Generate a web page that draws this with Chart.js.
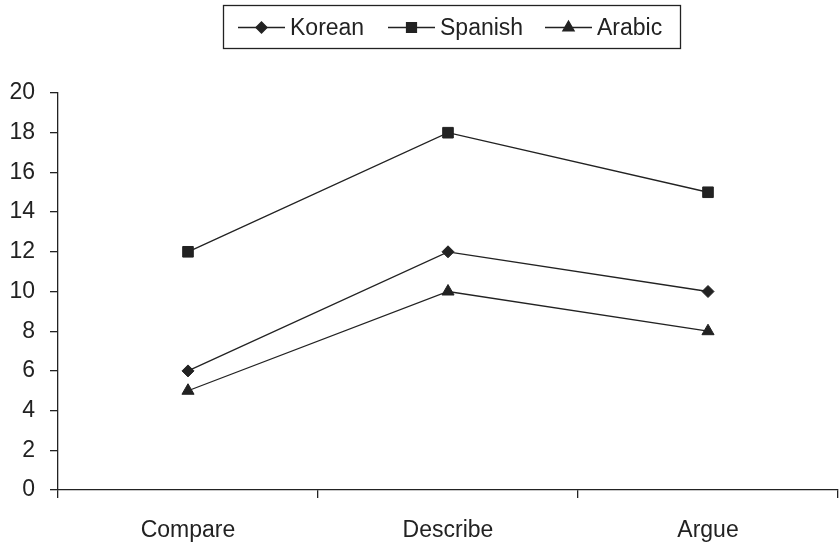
<!DOCTYPE html>
<html>
<head>
<meta charset="utf-8">
<script src="https://cdn.jsdelivr.net/npm/chart.js@4/dist/chart.umd.min.js"></script>
<style>
  html, body { margin: 0; padding: 0; background: #fff; overflow: hidden; }
  #wrap { width: 839px; height: 544px; position: relative; }
  #c { display: block; }
</style>
</head>
<body>
<div id="wrap"><canvas id="c"></canvas></div>
<script>
// Task types on the category axis
const categories = ['Compare', 'Describe', 'Argue'];

// Scores per language group
const korean  = [6, 12, 10];
const spanish = [12, 18, 15];
const arabic  = [5, 10, 8];

// Value axis ticks
const yTicks = [0, 2, 4, 6, 8, 10, 12, 14, 16, 18, 20];

const INK = '#222';
const FONT = '"Liberation Sans", Arial, Helvetica, sans-serif';
const FONT_SIZE = 23;

const series = [
  { label: 'Korean',  data: korean,  pointStyle: 'rectRot',  pointRadius: 6 },
  { label: 'Spanish', data: spanish, pointStyle: 'rect',     pointRadius: 7.5 },
  { label: 'Arabic',  data: arabic,  pointStyle: 'triangle', pointRadius: 7 }
];

// Legend layout: box edges and the left end of each item's line sample
const LEGEND_BOX = { left: 223.5, right: 680.5, top: 5.5, bottom: 48.5 };
const LEGEND_ITEM_X = [238, 388, 545];

// Boxed legend: line sample with centred marker, then the series name
const boxedLegend = {
  id: 'boxedLegend',
  afterDraw(chart) {
    const ctx = chart.ctx;
    ctx.save();
    ctx.font = FONT_SIZE + 'px ' + FONT;
    const lineLen = 47, gapText = 5;
    const b = LEGEND_BOX;
    ctx.strokeStyle = INK;
    ctx.lineWidth = 1.3;
    ctx.strokeRect(b.left, b.top, b.right - b.left, b.bottom - b.top);
    const cy = (b.top + b.bottom) / 2 + 0.5;
    series.forEach((s, i) => {
      const x = LEGEND_ITEM_X[i];
      ctx.beginPath();
      ctx.moveTo(x, cy);
      ctx.lineTo(x + lineLen, cy);
      ctx.lineWidth = 1.3;
      ctx.strokeStyle = INK;
      ctx.stroke();
      ctx.fillStyle = INK;
      Chart.helpers.drawPoint(ctx, {
        pointStyle: s.pointStyle,
        radius: s.pointRadius - 0.5,
        rotation: 0,
        borderWidth: 1
      }, x + lineLen / 2, cy);
      ctx.fillStyle = INK;
      ctx.textBaseline = 'middle';
      ctx.textAlign = 'left';
      ctx.fillText(s.label, x + lineLen + gapText, cy + 1);
    });
    ctx.restore();
  }
};

new Chart(document.getElementById('c'), {
  type: 'line',
  data: {
    labels: categories,
    datasets: series.map(s => ({
      label: s.label,
      data: s.data,
      borderColor: INK,
      backgroundColor: INK,
      borderWidth: 1.3,
      pointStyle: s.pointStyle,
      pointRadius: s.pointRadius,
      pointHoverRadius: s.pointRadius,
      pointBorderWidth: 1,
      pointBackgroundColor: INK,
      pointBorderColor: INK,
      tension: 0
    }))
  },
  options: {
    responsive: true,
    maintainAspectRatio: false,
    animation: false,
    events: [],
    layout: { autoPadding: false, padding: { top: 93, right: 1, left: 0, bottom: 0 } },
    plugins: {
      legend: { display: false },
      tooltip: { enabled: false }
    },
    scales: {
      x: {
        offset: true,
        grid: {
          offset: true,
          drawOnChartArea: false,
          drawTicks: true,
          tickLength: 8,
          color: INK,
          lineWidth: 1.3
        },
        border: { display: true, color: INK, width: 1.3 },
        ticks: {
          color: INK,
          font: { family: FONT, size: FONT_SIZE },
          padding: 19,
          maxRotation: 0
        },
        afterFit(scale) {
          scale.height = 54;
          scale.paddingLeft = 0;
          scale.paddingRight = 0;
        }
      },
      y: {
        min: 0,
        max: 20,
        afterBuildTicks(scale) { scale.ticks = yTicks.map(v => ({ value: v })); },
        grid: {
          drawOnChartArea: false,
          drawTicks: true,
          tickLength: 8,
          color: INK,
          lineWidth: 1.3
        },
        border: { display: true, color: INK, width: 1.3 },
        ticks: {
          color: INK,
          font: { family: FONT, size: FONT_SIZE },
          padding: 15
        },
        afterFit(scale) {
          scale.width = 58;
          scale.paddingTop = 0;
          scale.paddingBottom = 0;
        }
      }
    }
  },
  plugins: [boxedLegend]
});
</script>
</body>
</html>
